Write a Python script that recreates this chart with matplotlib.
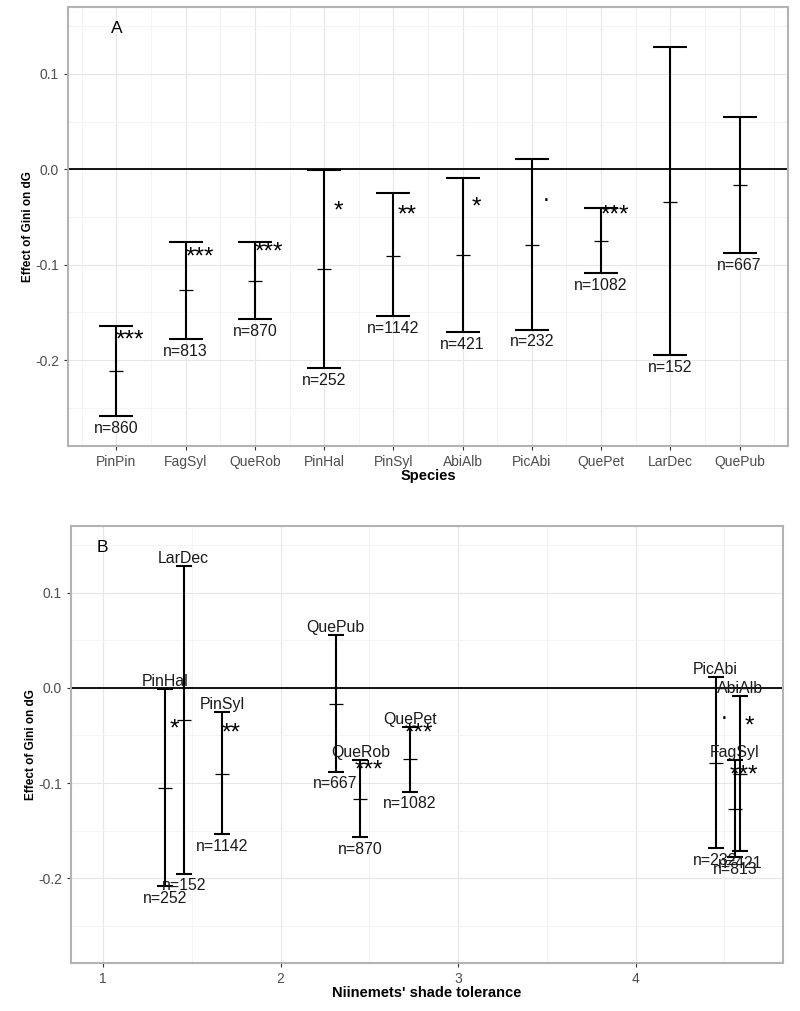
import matplotlib

matplotlib.use("Agg")
import matplotlib.pyplot as plt
import numpy as np
from matplotlib.ticker import FixedLocator, FuncFormatter


SPECIES = ["PinPin", "FagSyl", "QueRob", "PinHal", "PinSyl",
           "AbiAlb", "PicAbi", "QuePet", "LarDec", "QuePub"]
EFFECT = [-0.211, -0.127, -0.117, -0.105, -0.091, -0.090, -0.079, -0.075, -0.034, -0.017]
LOWER = [-0.259, -0.178, -0.157, -0.208, -0.154, -0.171, -0.168, -0.109, -0.195, -0.088]
UPPER = [-0.164, -0.076, -0.076, -0.001, -0.025, -0.009, 0.011, -0.041, 0.128, 0.055]
N_OBS = [860, 813, 870, 252, 1142, 421, 232, 1082, 152, 667]
SIGNIF = ["***", "***", "***", "*", "**", "*", ".", "***", "", ""]
SIGNIF_Y = [-0.175, -0.088, -0.083, -0.040, -0.044, -0.036, -0.032, -0.044, np.nan, np.nan]
SHADE_TOL = [np.nan, 4.56, 2.45, 1.35, 1.67, 4.59, 4.45, 2.73, 1.455, 2.31]

Y_TICKS = [-0.2, -0.1, 0.0, 0.1]
Y_MINOR = [-0.25, -0.15, -0.05, 0.05, 0.15]
SHADE_TICKS = [1, 2, 3, 4]

FONT = ["Liberation Sans", "DejaVu Sans"]
TICK_GREY = "#4d4d4d"
GRID_MAJOR = "#e6e6e6"
GRID_MINOR = "#f3f3f3"
BORDER = "#b3b3b3"

# glyph centre height above baseline, in em, used to place the stars visually
GLYPH_CENTER = {"*": 0.575, ".": 0.05}

plt.rcParams.update({
    "font.family": FONT,
    "axes.unicode_minus": False,
})


def style_axes(ax):
    for spine in ax.spines.values():
        spine.set_color(BORDER)
        spine.set_linewidth(1.5)
    ax.tick_params(axis="both", colors="#333333", labelcolor=TICK_GREY,
                   labelsize=10, length=3, width=0.8)
    ax.yaxis.set_major_locator(FixedLocator(Y_TICKS))
    ax.yaxis.set_minor_locator(FixedLocator(Y_MINOR))
    ax.yaxis.set_major_formatter(FuncFormatter(lambda v, _: f"{v:.1f}"))
    ax.tick_params(which="minor", length=0)
    ax.grid(which="major", color=GRID_MAJOR, linewidth=0.8)
    ax.grid(which="minor", color=GRID_MINOR, linewidth=0.6)
    ax.set_axisbelow(True)
    ax.axhline(0.0, color="black", linewidth=1.3, zorder=2)
    ax.set_ylabel("Effect of Gini on dG", fontsize=8.5, fontweight="bold", labelpad=0.5)


def draw_bars(ax, xs, capsize):
    effect = np.asarray(EFFECT)
    lower = np.asarray(LOWER)
    upper = np.asarray(UPPER)
    ok = ~np.isnan(xs)
    ax.errorbar(xs[ok], effect[ok], yerr=[effect[ok] - lower[ok], upper[ok] - effect[ok]],
                fmt="none", ecolor="black", elinewidth=1.5, capsize=capsize,
                capthick=1.5, zorder=3)
    ax.plot(xs[ok], effect[ok], linestyle="none", marker="_", markersize=10,
            markeredgewidth=0.9, color="black", zorder=4)


def draw_signif(ax, x, y, label, size=17.5):
    if not label or np.isnan(y):
        return
    # place glyph visually centred on y
    offset = -GLYPH_CENTER.get(label[0], 0.5) * size * 0.72
    ax.annotate(label, (x, y), xytext=(0, offset), textcoords="offset points",
                ha="center", va="baseline", fontsize=size, color="black", zorder=5)


def draw_n(ax, x, y, n):
    ax.annotate(f"n={n}", (x, y), xytext=(0, -3.5), textcoords="offset points",
                ha="center", va="top", fontsize=11.4, color="#1a1a1a", zorder=5)


fig = plt.figure(figsize=(8.0, 10.11), dpi=100)

# ---- Panel A: by species
axA = fig.add_axes([68 / 800, 1 - 446 / 1011, 720 / 800, 439 / 1011])
style_axes(axA)
xa = np.arange(1, len(SPECIES) + 1, dtype=float)
axA.set_xticks(xa)
axA.set_xticklabels(SPECIES)
axA.set_xticks(np.arange(0.5, len(SPECIES) + 1, 1.0), minor=True)
axA.set_xlim(0.3, len(SPECIES) + 0.7)
axA.set_ylim(-0.290, 0.170)
draw_bars(axA, xa, capsize=11.9)
for i in range(len(SPECIES)):
    draw_n(axA, xa[i], LOWER[i], N_OBS[i])
    draw_signif(axA, xa[i] + 0.2, SIGNIF_Y[i], SIGNIF[i])
axA.set_xlabel("Species", fontsize=10.5, fontweight="bold", labelpad=0)
axA.text(0.068, 0.95, "A", transform=axA.transAxes, fontsize=12.5,
         ha="center", va="center")

# ---- Panel B: by Niinemets' shade tolerance
axB = fig.add_axes([71 / 800, 1 - 963 / 1011, 712 / 800, 437 / 1011])
style_axes(axB)
xb = np.asarray(SHADE_TOL, dtype=float)
axB.set_xticks(SHADE_TICKS)
axB.set_xticks([1.5, 2.5, 3.5, 4.5], minor=True)
axB.set_xlim(0.82, 4.83)
axB.set_ylim(-0.289, 0.170)
draw_bars(axB, xb, capsize=6.1)
for i in range(len(SPECIES)):
    if np.isnan(xb[i]):
        continue
    draw_n(axB, xb[i], LOWER[i], N_OBS[i])
    draw_signif(axB, xb[i] + 0.05, SIGNIF_Y[i], SIGNIF[i])
    axB.annotate(SPECIES[i], (xb[i], UPPER[i]), xytext=(0, 0), textcoords="offset points",
                 ha="center", va="bottom", fontsize=11.4, color="#1a1a1a", zorder=5)
axB.set_xlabel("Niinemets' shade tolerance", fontsize=10.5, fontweight="bold", labelpad=0)
axB.text(0.0435, 0.95, "B", transform=axB.transAxes, fontsize=12.5,
         ha="center", va="center")

fig.savefig("out.png", dpi=100)
